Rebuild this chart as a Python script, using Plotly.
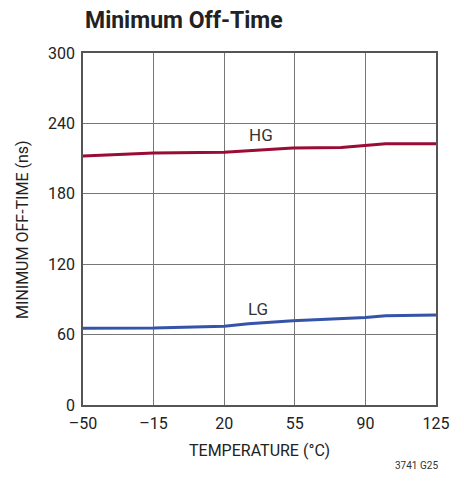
import plotly.graph_objects as go

# temperature (°C) and minimum off-time (ns)
temp_hg = [-50, -15, 20, 35, 54, 78, 100, 125]
hg_ns = [212.3, 214.8, 215.5, 217.3, 219.0, 219.5, 222.7, 222.6]

temp_lg = [-50, -15, 20, 32, 54, 90, 100, 125]
lg_ns = [65.4, 65.6, 67.2, 69.3, 71.8, 74.5, 76.0, 76.7]

x_ticks = [-50, -15, 20, 55, 90, 125]
x_tick_text = ["–50", "–15", "20", "55", "90", "125"]
y_ticks = [0, 60, 120, 180, 240, 300]

font_main = "Roboto, Liberation Sans, sans-serif"

W, H = 456, 473  # page has an 8px body margin

fig = go.Figure()

fig.add_trace(go.Scatter(
    x=temp_hg, y=hg_ns, mode="lines", name="HG",
    line=dict(color="#9a0b36", width=3),
))
fig.add_trace(go.Scatter(
    x=temp_lg, y=lg_ns, mode="lines", name="LG",
    line=dict(color="#3553a8", width=3),
))

# curve labels
fig.add_annotation(x=38, y=230, text="HG", showarrow=False,
                   font=dict(size=17, color="#333", family=font_main))
fig.add_annotation(x=37, y=81.5, text="LG", showarrow=False,
                   font=dict(size=17, color="#333", family=font_main))

# axis titles
fig.add_annotation(x=0.5, y=-0.128, xref="paper", yref="paper", yanchor="middle",
                   text="TEMPERATURE (°C)", showarrow=False,
                   font=dict(size=16, color="#222", family=font_main))
fig.add_annotation(x=-0.173, y=0.5, xref="paper", yref="paper", xanchor="center",
                   text="MINIMUM OFF-TIME (ns)", showarrow=False, textangle=-90,
                   font=dict(size=16, color="#222", family=font_main))
fig.add_annotation(x=1.01, y=-0.173, xref="paper", yref="paper", xanchor="right",
                   yanchor="middle", text="3741 G25", showarrow=False,
                   font=dict(size=10, color="#333", family=font_main))

fig.update_layout(
    width=W, height=H,
    margin=dict(l=75, r=28, t=45, b=76),
    paper_bgcolor="white", plot_bgcolor="white",
    showlegend=False,
    font=dict(family=font_main, size=16, color="#222"),
    title=dict(text="<b>Minimum Off-Time</b>", x=77 / W, xanchor="left",
               y=1 - 12 / H, yanchor="middle",
               font=dict(size=23, color="#222", family=font_main)),
    xaxis=dict(
        range=[-50, 125], tickvals=x_ticks, ticktext=x_tick_text,
        showgrid=True, gridcolor="#777", gridwidth=1, automargin=False,
        zeroline=False, showline=True, linecolor="#555", linewidth=1.5,
        mirror=True, ticks="outside", ticklen=3, tickcolor="white",
        tickfont=dict(size=16),
    ),
    yaxis=dict(
        range=[0, 300], tickvals=y_ticks,
        showgrid=True, gridcolor="#777", gridwidth=1, automargin=False,
        zeroline=False, showline=True, linecolor="#555", linewidth=1.5,
        mirror=True, ticks="outside", ticklen=3, tickcolor="white",
        tickfont=dict(size=16),
    ),
)

fig.write_html("out.html")
